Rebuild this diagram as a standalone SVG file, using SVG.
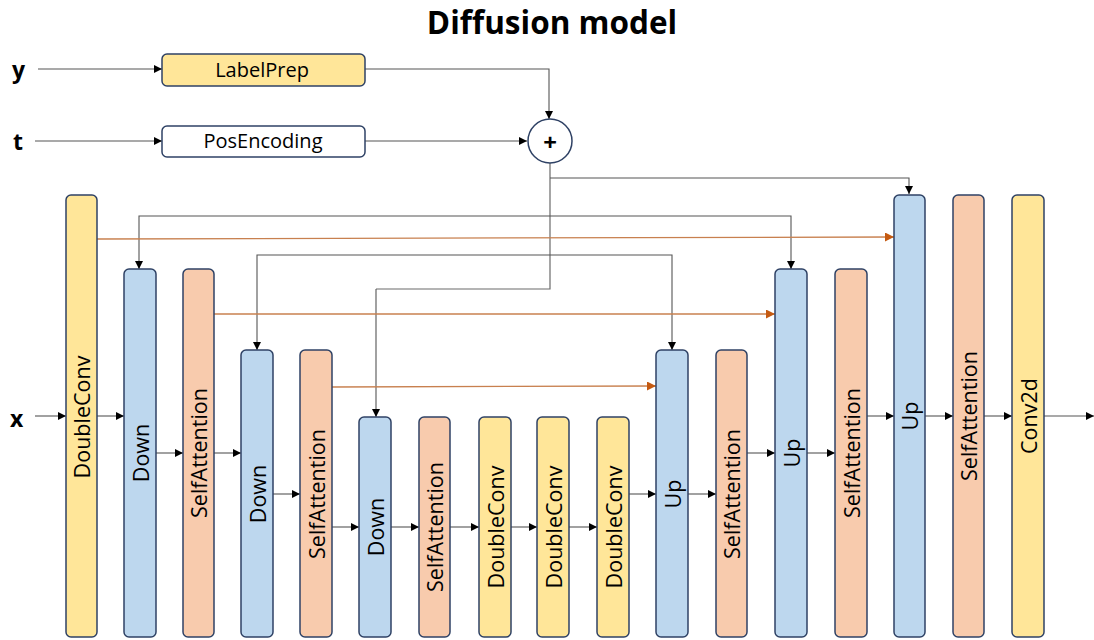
<svg xmlns="http://www.w3.org/2000/svg" width="1094" height="640" viewBox="0 0 1094 640">
<defs>
<marker id="ab" viewBox="0 0 10 10" refX="10" refY="5" markerWidth="9" markerHeight="8" markerUnits="userSpaceOnUse" orient="auto"><path d="M0,0 L10,5 L0,10 z" fill="#000"/></marker>
<marker id="ao" viewBox="0 0 10 10" refX="10" refY="5" markerWidth="10" markerHeight="9" markerUnits="userSpaceOnUse" orient="auto"><path d="M0,0 L10,5 L0,10 z" fill="#C55A11"/></marker>
<style>
.box{stroke:#2F4265;stroke-width:1.5}
.yel{fill:#FFE699}.blu{fill:#BDD7EE}.ora{fill:#F8CBAD}.wht{fill:#fff}
.lbl{font-family:"Open Sans","Liberation Sans",sans-serif;font-size:21.5px;fill:#000;text-anchor:middle;dominant-baseline:central}
.top{font-family:"Open Sans","Liberation Sans",sans-serif;font-size:20px;fill:#000;text-anchor:middle;dominant-baseline:central}
.var{font-family:"Open Sans","Liberation Sans",sans-serif;font-size:23px;font-weight:bold;fill:#000;dominant-baseline:central}
.c{fill:none;stroke:#6b6b6b;stroke-width:1.2}
.a{fill:none;stroke:#555;stroke-width:1.1;marker-end:url(#ab)}
.o{fill:none;stroke:#C8804F;stroke-width:1.3;marker-end:url(#ao)}
</style>
</defs>
<rect width="1094" height="640" fill="#fff"/>
<text x="552" y="21" font-family="'Open Sans','Liberation Sans',sans-serif" font-size="31.5" font-weight="bold" text-anchor="middle" dominant-baseline="central">Diffusion model</text>
<text class="var" x="12" y="69">y</text>
<text class="var" x="13" y="141">t</text>
<text class="var" x="10" y="418">x</text>

<g id="connectors">
<path class="a" d="M38,69 H162"/>
<path class="a" d="M35,141 H162"/>
<path class="a" d="M365,69 H549 V119"/>
<path class="a" d="M365,141 H527"/>
<path class="c" d="M550,163 V289 H376"/>
<path class="a" d="M376,289 V417"/>
<path class="a" d="M550,178 H909 V194"/>
<path class="a" d="M550,216 H139 V269"/>
<path class="a" d="M550,216 H791 V269"/>
<path class="a" d="M550,255 H257 V350"/>
<path class="a" d="M550,255 H672 V350"/>
<path class="o" d="M97,239 L894,237"/>
<path class="o" d="M214,314 H775"/>
<path class="o" d="M332,387 L656,386"/>
<path class="a" d="M35,416 H66"/>
<path class="a" d="M97,416 H124"/>
<path class="a" d="M156,453 H183"/>
<path class="a" d="M214,453 H241"/>
<path class="a" d="M273,494 H300"/>
<path class="a" d="M332,527 H359"/>
<path class="a" d="M391,527 H419"/>
<path class="a" d="M450,527 H479"/>
<path class="a" d="M511,527 H537"/>
<path class="a" d="M569,527 H597"/>
<path class="a" d="M629,494 H656"/>
<path class="a" d="M688,494 H716"/>
<path class="a" d="M747,453 H775"/>
<path class="a" d="M807,453 H835"/>
<path class="a" d="M867,416 H894"/>
<path class="a" d="M925,416 H953"/>
<path class="a" d="M984,416 H1012"/>
<path class="a" d="M1044,416 H1094"/>
</g>

<g id="labelprep"><rect class="box yel" x="162" y="54" width="203" height="32" rx="5"/><text class="top" x="262" y="69">LabelPrep</text></g>
<g id="posencoding"><rect class="box wht" x="162" y="126" width="203" height="31" rx="5"/><text class="top" x="263" y="140">PosEncoding</text></g>
<g id="plus"><circle class="box wht" cx="550" cy="141" r="22"/><text x="550" y="141" font-family="'Open Sans','Liberation Sans',sans-serif" font-size="24" font-weight="bold" text-anchor="middle" dominant-baseline="central">+</text></g>

<g id="n1"><rect class="box yel" x="66" y="195" width="31" height="442" rx="5"/><text class="lbl" transform="translate(81.5,417) rotate(-90)">DoubleConv</text></g>
<g id="n2"><rect class="box blu" x="124" y="269" width="32" height="368" rx="5"/><text class="lbl" transform="translate(140,453) rotate(-90)">Down</text></g>
<g id="n3"><rect class="box ora" x="183" y="269" width="31" height="368" rx="5"/><text class="lbl" transform="translate(198.5,453) rotate(-90)">SelfAttention</text></g>
<g id="n4"><rect class="box blu" x="241" y="350" width="32" height="287" rx="5"/><text class="lbl" transform="translate(257,494) rotate(-90)">Down</text></g>
<g id="n5"><rect class="box ora" x="300" y="350" width="32" height="287" rx="5"/><text class="lbl" transform="translate(316,494) rotate(-90)">SelfAttention</text></g>
<g id="n6"><rect class="box blu" x="359" y="417" width="32" height="220" rx="5"/><text class="lbl" transform="translate(375,527) rotate(-90)">Down</text></g>
<g id="n7"><rect class="box ora" x="419" y="417" width="31" height="220" rx="5"/><text class="lbl" transform="translate(434.5,527) rotate(-90)">SelfAttention</text></g>
<g id="n8"><rect class="box yel" x="479" y="417" width="32" height="220" rx="5"/><text class="lbl" transform="translate(495,527) rotate(-90)">DoubleConv</text></g>
<g id="n9"><rect class="box yel" x="537" y="417" width="32" height="220" rx="5"/><text class="lbl" transform="translate(553,527) rotate(-90)">DoubleConv</text></g>
<g id="n10"><rect class="box yel" x="597" y="417" width="32" height="220" rx="5"/><text class="lbl" transform="translate(613,527) rotate(-90)">DoubleConv</text></g>
<g id="n11"><rect class="box blu" x="656" y="350" width="32" height="287" rx="5"/><text class="lbl" transform="translate(672,494) rotate(-90)">Up</text></g>
<g id="n12"><rect class="box ora" x="716" y="350" width="31" height="287" rx="5"/><text class="lbl" transform="translate(731.5,494) rotate(-90)">SelfAttention</text></g>
<g id="n13"><rect class="box blu" x="775" y="269" width="32" height="368" rx="5"/><text class="lbl" transform="translate(791,453) rotate(-90)">Up</text></g>
<g id="n14"><rect class="box ora" x="835" y="269" width="32" height="368" rx="5"/><text class="lbl" transform="translate(851,453) rotate(-90)">SelfAttention</text></g>
<g id="n15"><rect class="box blu" x="894" y="195" width="31" height="442" rx="5"/><text class="lbl" transform="translate(909.5,416) rotate(-90)">Up</text></g>
<g id="n16"><rect class="box ora" x="953" y="195" width="31" height="442" rx="5"/><text class="lbl" transform="translate(968.5,416) rotate(-90)">SelfAttention</text></g>
<g id="n17"><rect class="box yel" x="1012" y="195" width="32" height="442" rx="5"/><text class="lbl" transform="translate(1028,416) rotate(-90)">Conv2d</text></g>
</svg>
